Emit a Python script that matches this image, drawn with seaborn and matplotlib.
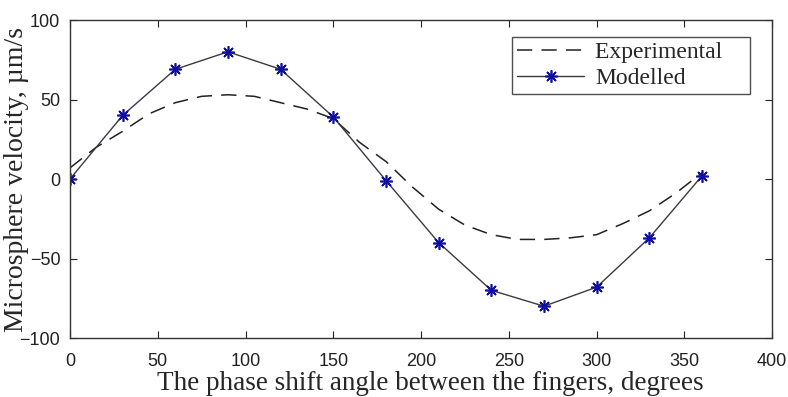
import pandas as pd
import numpy as np
import seaborn as sns
import matplotlib.pyplot as plt

# modelled values, every 30 degrees
angle_mod = [0, 30, 60, 90, 120, 150, 180, 210, 240, 270, 300, 330, 360]
vel_mod = [0, 40, 69, 80, 69, 39, -1, -40, -70, -80, -68, -37, 2]

# experimental curve, read every 15 degrees
angle_exp = [0, 15, 30, 45, 60, 75, 90, 105, 120, 135, 150, 165, 180, 195, 210,
             225, 240, 255, 270, 285, 300, 315, 330, 345, 360]
vel_exp = [7, 20, 30, 41, 48, 52, 53, 52, 48, 44, 38, 23, 11, -5, -19,
           -29, -35, -38, -38, -37, -35, -28, -20, -9, 4]

df_exp = pd.DataFrame({"angle": angle_exp, "vel": vel_exp})
df_mod = pd.DataFrame({"angle": angle_mod, "vel": vel_mod})

sns.set_style("ticks")
plt.rcParams["font.family"] = ["Liberation Sans", "DejaVu Sans"]
serif = ["Liberation Serif", "DejaVu Serif"]

fig = plt.figure(figsize=(7.88, 3.97), dpi=100)
ax = fig.add_axes([0.0888, 0.1486, 0.8912, 0.801])

sns.lineplot(data=df_exp, x="angle", y="vel", ax=ax, color="#222222",
             linewidth=1.1, label="Experimental")
ax.lines[-1].set_dashes([10, 6])
sns.lineplot(data=df_mod, x="angle", y="vel", ax=ax, color="#3a3a44",
             linewidth=1.0, marker=(8, 2, 0), markersize=9,
             markeredgecolor="#1010a0", markerfacecolor="#1010a0",
             markeredgewidth=1.2, label="Modelled")

ax.set_xlim(0, 400)
ax.set_ylim(-100, 100)
ax.set_xticks(range(0, 401, 50))
ax.set_yticks([-100, -50, 0, 50, 100])
ax.tick_params(direction="in", length=5, labelsize=13, colors="#222222",
               top=True, right=True)
ax.tick_params(axis="x", pad=11)
ax.tick_params(axis="y", pad=7)
for s in ax.spines.values():
    s.set_visible(True)
    s.set_color("#333333")
    s.set_linewidth(1.0)

ax.set_xlabel("The phase shift angle between the fingers, degrees",
              family=serif, fontsize=19.5)
ax.xaxis.set_label_coords(0.513, -0.105)
ax.set_ylabel("Microsphere velocity, \u00b5m/s", family=serif, fontsize=20)
ax.yaxis.set_label_coords(-0.058, 0.5)

leg = ax.legend(loc="upper right", bbox_to_anchor=(0.969, 0.947),
                prop={"family": serif, "size": 17}, frameon=True,
                fancybox=False, handlelength=2.85, borderpad=0.2,
                labelspacing=0.18, handletextpad=0.45, borderaxespad=0)
leg.get_frame().set_edgecolor("#222222")
leg.get_frame().set_linewidth(1.0)
# the reference box leaves extra room on the right of the labels
leg.get_texts()[0].set_text("Experimental    ")

fig.savefig("out.png", dpi=100)
